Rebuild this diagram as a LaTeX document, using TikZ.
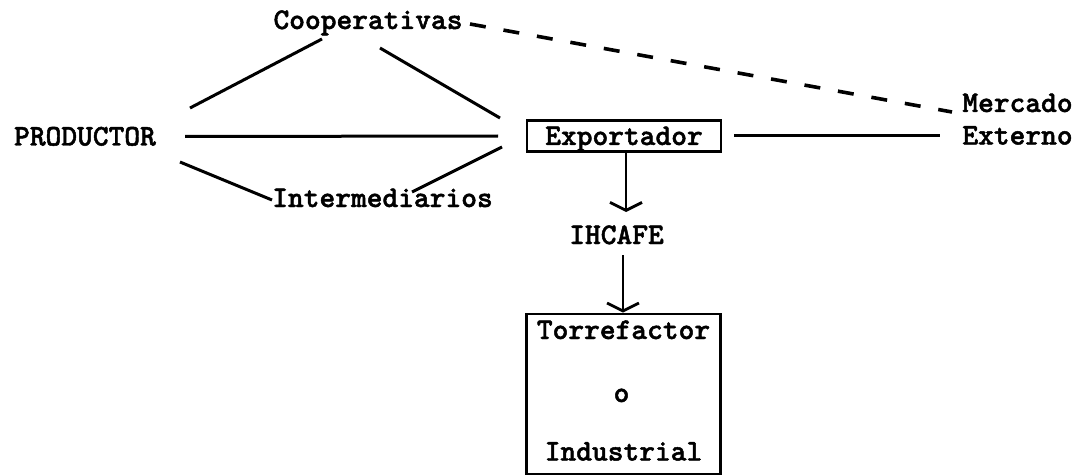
\documentclass[tikz,border=0pt]{standalone}
\usepackage{fontspec}
\newfontfamily\twfont{lmmonolt10-bold.otf}[FakeBold=1.6]
\usetikzlibrary{arrows.meta}
\begin{document}
\begin{tikzpicture}[x=1pt,y=-1pt,
  txt/.style={inner sep=0pt, text height=18pt, text depth=0pt,
    font=\twfont\fontsize{30}{34}\selectfont},
  boxnode/.style={draw, line width=2.8pt, inner sep=0pt},
  conn/.style={line width=3pt},
  dconn/.style={line width=3.6pt, dash pattern=on 16pt off 18pt},
  arr/.style={line width=2.8pt, -{Straight Barb[length=8pt,width=32pt,line width=2.8pt]}}
]
\useasboundingbox (0,0) rectangle (1089,476);
% text nodes
\node[txt] (prod) at (85,136.5) {PRODUCTOR};
\node[txt] (coop) at (368,20) {Cooperativas};
\node[txt] (inter) at (382.5,198) {Intermediarios};
\node[txt,boxnode,minimum width=194pt,minimum height=31pt] (expo) at (624,136) {Exportador};
\node[txt] (merc) at (1017.5,103) {Mercado};
\node[txt] (ext) at (1017.5,135.5) {Externo};
\node[txt] (ihc) at (616.5,235) {IHCAFE};
\node[boxnode,minimum width=194pt,minimum height=160pt] (torr) at (623.5,394) {};
\node[txt] (t1) at (623.5,330) {Torrefactor};
\node[txt] (t2) at (621.5,393) {o};
\node[txt] (t3) at (623.5,451.5) {Industrial};
% endpoints
\coordinate (a1) at (190,108); \coordinate (a2) at (322,39);
\coordinate (b1) at (380,48);  \coordinate (b2) at (500,118);
\coordinate (c1) at (185,136.5); \coordinate (c2) at (498,136);
\coordinate (d1) at (180,162); \coordinate (d2) at (272,200);
\coordinate (e1) at (412,192); \coordinate (e2) at (502,147);
\coordinate (f1) at (734,136); \coordinate (f2) at (940,136);
\coordinate (g1) at (470,24);  \coordinate (g2) at (952,112);
\coordinate (h2) at (626,212);
\coordinate (i1) at (623,255);
% connectors
\draw[conn] (a1) -- (a2);
\draw[conn] (b1) -- (b2);
\draw[conn] (c1) -- (c2);
\draw[conn] (d1) -- (d2);
\draw[conn] (e1) -- (e2);
\draw[conn] (f1) -- (f2);
\draw[dconn] (g1) -- (g2);
\draw[arr] (expo.south -| h2) -- (h2);
\draw[arr] (i1) -- (i1 |- torr.north);
\end{tikzpicture}
\end{document}
